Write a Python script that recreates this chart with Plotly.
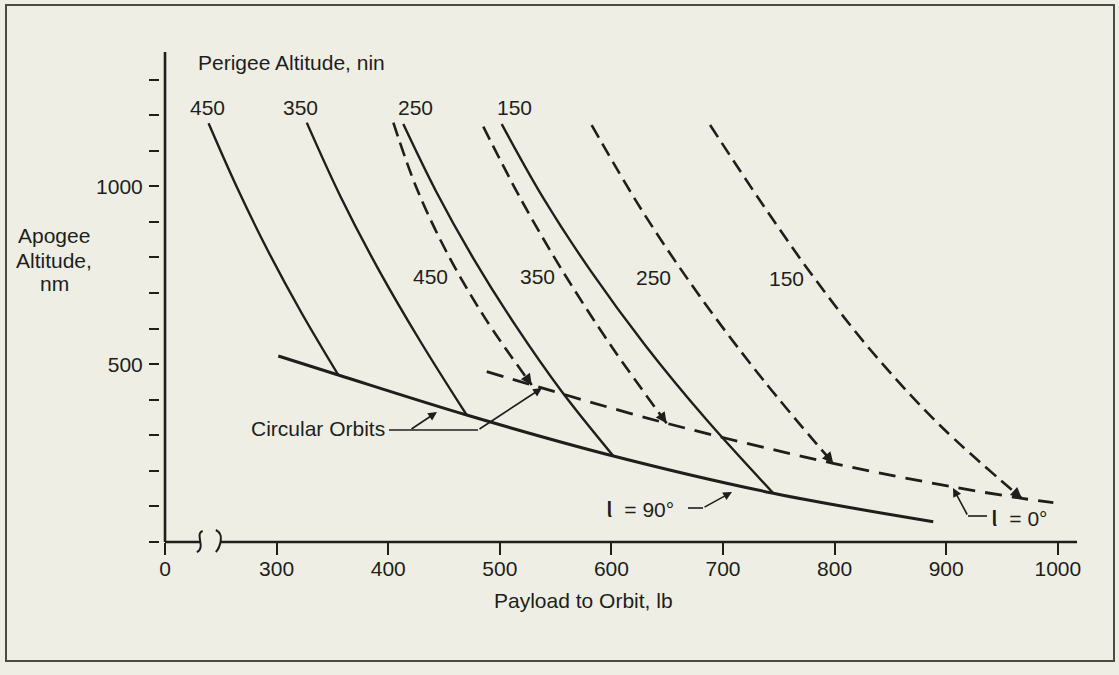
import math
import plotly.graph_objects as go

# ---------------------------------------------------------------- data
PERIGEE = [450, 350, 250, 150]  # perigee altitude, nm (curve labels)

# inclination 90 deg (solid lines): payload to orbit (lb) vs apogee altitude (nm)
SOLID_450_X = [239, 264, 291.5, 322, 355.3]
SOLID_450_Y = [1177, 1000, 823, 646, 469.5]
SOLID_350_X = [327, 357, 391, 429, 470.3]
SOLID_350_Y = [1179, 973, 768, 563, 357]
SOLID_250_X = [413.5, 442.7, 476, 513.6, 555.5, 601.7]
SOLID_250_Y = [1175, 987, 799, 611, 423, 241.8]
SOLID_150_X = [501.7, 539, 581.9, 630.6, 684.9, 745.1]
SOLID_150_Y = [1175, 967, 760, 552, 345, 137]
CIRC_90_X = [301.5, 355.3, 470.3, 601.7, 745.1, 888.4]
CIRC_90_Y = [522.9, 469.5, 357, 241.8, 137, 57.1]

# inclination 0 deg (dashed lines)
DASH_450_X = [404.6, 425.3, 452.6, 486.5, 528.6]
DASH_450_Y = [1178.8, 996, 813.5, 630.7, 441.4]
DASH_350_X = [485.2, 519.6, 558.3, 601.5, 649.5]
DASH_350_Y = [1167.6, 959.6, 751.5, 543.5, 333.8]
DASH_250_X = [582.3, 627.1, 678.4, 736.1, 798.8]
DASH_250_Y = [1172.3, 933.4, 694.4, 455.4, 221.2]
DASH_150_X = [688.4, 732.8, 779.8, 832.2, 894.1, 967.7]
DASH_150_Y = [1172.3, 961.5, 750.6, 539.8, 328.9, 122.8]
CIRC_0_X = [488.3, 528.6, 649.5, 798.8, 906.4, 967.7, 996]
CIRC_0_Y = [478.8, 441.4, 333.8, 221.2, 154.6, 122.8, 110.5]

# broken x axis: the "0" tick sits where 200 would be on the 300..1000 scale
X_TICK_VALS = [200, 300, 400, 500, 600, 700, 800, 900, 1000]
X_TICK_TEXT = ["0", "300", "400", "500", "600", "700", "800", "900", "1000"]
Y_TICK_VALS = list(range(0, 1301, 100))
Y_TICK_TEXT = [str(v) if v in (500, 1000) else "" for v in Y_TICK_VALS]

# ---------------------------------------------------------------- layout constants
W, H = 1119, 675
L, R, T, B = 160, 1077, 52, 542          # plot box in pixels
X_RANGE = [195.5, 1017.2]
Y_RANGE = [0, 1377.6]
X_ZERO = X_TICK_VALS[0]
BREAK_L, BREAK_R = 232, 250

INK = "#1e1e1c"
BG = "#eeeee4"
FONT = "Liberation Sans, Arial, sans-serif"
FS = 21

SX = (R - L) / (X_RANGE[1] - X_RANGE[0])
SY = (B - T) / (Y_RANGE[1] - Y_RANGE[0])


def P(px, py):
    """pixel -> paper coordinates"""
    return (px - L) / (R - L), (B - py) / (B - T)


fig = go.Figure()

solid_sets = [(SOLID_450_X, SOLID_450_Y), (SOLID_350_X, SOLID_350_Y),
              (SOLID_250_X, SOLID_250_Y), (SOLID_150_X, SOLID_150_Y)]
dash_sets = [(DASH_450_X, DASH_450_Y), (DASH_350_X, DASH_350_Y),
             (DASH_250_X, DASH_250_Y), (DASH_150_X, DASH_150_Y)]

for (xs, ys), p in zip(solid_sets, PERIGEE):
    fig.add_trace(go.Scatter(x=xs, y=ys, mode="lines", name=f"{p} nm, i=90°",
                             line=dict(color=INK, width=2.4, shape="spline", smoothing=1),
                             hoverinfo="skip", showlegend=False))
fig.add_trace(go.Scatter(x=CIRC_90_X, y=CIRC_90_Y, mode="lines", name="circular, i=90°",
                         line=dict(color=INK, width=3.0, shape="spline", smoothing=1),
                         hoverinfo="skip", showlegend=False))
for (xs, ys), p in zip(dash_sets, PERIGEE):
    fig.add_trace(go.Scatter(x=xs, y=ys, mode="lines", name=f"{p} nm, i=0°",
                             line=dict(color=INK, width=2.6, dash="14px,7px",
                                       shape="spline", smoothing=1),
                             hoverinfo="skip", showlegend=False))
fig.add_trace(go.Scatter(x=CIRC_0_X, y=CIRC_0_Y, mode="lines", name="circular, i=0°",
                         line=dict(color=INK, width=2.8, dash="17px,10px",
                                   shape="spline", smoothing=1),
                         hoverinfo="skip", showlegend=False))

shapes = []
# figure border
x0, y0 = P(6, 661)
x1, y1 = P(1114, 5)
shapes.append(dict(type="rect", xref="paper", yref="paper", x0=x0, y0=y0, x1=x1, y1=y1,
                   line=dict(color="#4a4a48", width=2)))
# y axis line
shapes.append(dict(type="line", xref="x", yref="paper", x0=X_ZERO, x1=X_ZERO, y0=0, y1=1,
                   line=dict(color=INK, width=2.6)))
# x axis line with a break
shapes.append(dict(type="line", xref="x", yref="paper", x0=X_ZERO, x1=BREAK_L, y0=0, y1=0,
                   line=dict(color=INK, width=2.6)))
shapes.append(dict(type="line", xref="x", yref="paper", x0=BREAK_R, x1=X_RANGE[1], y0=0, y1=0,
                   line=dict(color=INK, width=2.6)))


def path_px(cmds):
    out = []
    for c in cmds:
        if isinstance(c, str):
            out.append(c)
        else:
            px, py = P(*c)
            out.append(f"{px:.5f},{py:.5f}")
    return " ".join(out)


bl = L + (BREAK_L - X_RANGE[0]) * SX
br = L + (BREAK_R - X_RANGE[0]) * SX
shapes.append(dict(type="path", xref="paper", yref="paper",
                   path=path_px(["M", (bl + 2, 531), "Q", (bl - 2, 532), (bl - 1, 538),
                                 "L", (bl, 545), "Q", (bl, 551), (bl - 4, 552)]),
                   line=dict(color=INK, width=2)))
shapes.append(dict(type="path", xref="paper", yref="paper",
                   path=path_px(["M", (br - 5, 530), "Q", (br + 1, 533), (br, 540),
                                 "Q", (br - 1, 548), (br - 5, 552)]),
                   line=dict(color=INK, width=2)))

# leader lines
for (ax0, ay0, ax1, ay1) in [(389, 430, 478, 430), (688, 508, 703, 508), (968, 516, 987, 516)]:
    a, b = P(ax0, ay0)
    c, d = P(ax1, ay1)
    shapes.append(dict(type="line", xref="paper", yref="paper", x0=a, y0=b, x1=c, y1=d,
                       line=dict(color=INK, width=1.6)))

annotations = []


def text(s, px, py, xanchor="center", size=FS):
    x, y = P(px, py)
    annotations.append(dict(text=s, x=x, y=y, xref="paper", yref="paper", showarrow=False,
                            xanchor=xanchor, yanchor="middle",
                            font=dict(family=FONT, size=size, color=INK)))


IOTA = '<span style="font-size:30px">ι</span>'

text("Perigee Altitude, nin", 196, 62, "left")
for p, cx in zip(PERIGEE, [207, 300, 415, 514]):
    text(str(p), cx, 107)
for p, cx, cy in zip(PERIGEE, [430, 537, 653, 786], [276, 276, 277, 278]):
    text(str(p), cx, cy)
text("Apogee", 54, 235)
text("Altitude,", 54, 260)
text("nm", 54, 283)
text("Circular Orbits", 387, 428, "right")
text(IOTA + "  = 90°", 604, 506, "left")
text(IOTA + "  = 0°", 989, 515, "left")
text("Payload to Orbit, lb", 583, 600)


def arrow(tail, head):
    hx, hy = P(*head)
    annotations.append(dict(x=hx, y=hy, xref="paper", yref="paper", text="",
                            showarrow=True, ax=tail[0] - head[0], ay=tail[1] - head[1],
                            arrowhead=2, arrowsize=1.1, arrowwidth=1.6, arrowcolor=INK,
                            standoff=0))


arrow((410, 430), (437, 412))
arrow((478, 430), (542, 388))
arrow((703, 508), (732, 492))
arrow((968, 516), (953, 488))

# arrowheads where the i = 0 perigee curves meet the circular-orbit curve
for xs, ys in dash_sets:
    dx = (xs[-1] - xs[-2]) * SX
    dy = -(ys[-1] - ys[-2]) * SY
    d = math.hypot(dx, dy)
    annotations.append(dict(x=xs[-1], y=ys[-1], xref="x", yref="y", text="",
                            showarrow=True, ax=-dx / d * 7, ay=-dy / d * 7,
                            arrowhead=2, arrowsize=1.0, arrowwidth=2.2, arrowcolor=INK,
                            standoff=0))

fig.update_layout(
    width=W, height=H,
    margin=dict(l=L, r=W - R, t=T, b=H - B, pad=0),
    paper_bgcolor=BG, plot_bgcolor=BG,
    font=dict(family=FONT, size=FS, color=INK),
    showlegend=False,
    hovermode=False,
    shapes=shapes,
    annotations=annotations,
    xaxis=dict(range=X_RANGE, showgrid=False, zeroline=False, showline=False,
               tickmode="array", tickvals=X_TICK_VALS, ticktext=X_TICK_TEXT,
               ticks="outside", ticklen=12, tickwidth=2, tickcolor=INK,
               ticklabelstandoff=-4, tickfont=dict(family=FONT, size=FS, color=INK),
               fixedrange=True),
    yaxis=dict(range=Y_RANGE, showgrid=False, zeroline=False, showline=False,
               tickmode="array", tickvals=Y_TICK_VALS, ticktext=Y_TICK_TEXT,
               ticks="outside", ticklen=10, tickwidth=2, tickcolor=INK,
               ticklabelstandoff=2, tickfont=dict(family=FONT, size=FS, color=INK),
               fixedrange=True),
)

fig.write_html("out.html", config={"displayModeBar": False},
               post_script="document.body.style.margin='0px';")
